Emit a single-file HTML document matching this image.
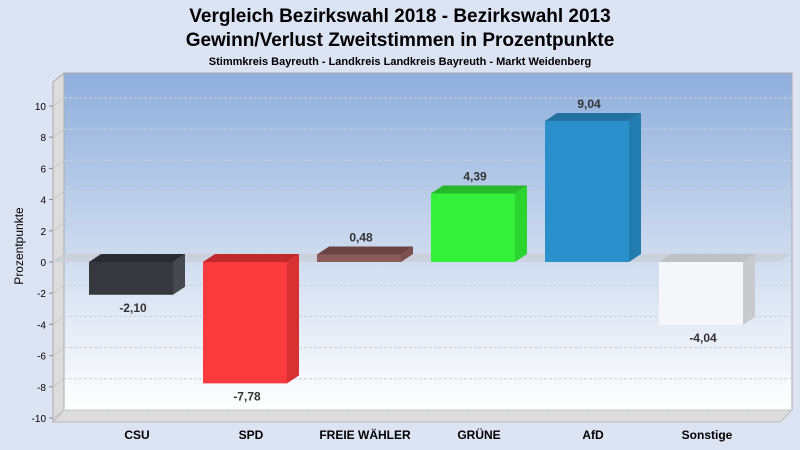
<!DOCTYPE html>
<html><head><meta charset="utf-8"><style>
body{margin:0;background:#dce3f3;font-family:"Liberation Sans",Arial,sans-serif}
svg{display:block}
</style></head><body>
<svg width="800" height="450" viewBox="0 0 800 450">
<defs>
<linearGradient id="wall" x1="0" y1="0" x2="0" y2="1">
<stop offset="0" stop-color="#8eaedc"/><stop offset="0.55" stop-color="#cfdcef"/><stop offset="1" stop-color="#ffffff"/>
</linearGradient>
</defs>
<rect width="800" height="450" fill="#dce3f3"/>
<text x="400" y="22" text-anchor="middle" font-size="19" font-weight="bold">Vergleich Bezirkswahl 2018 - Bezirkswahl 2013</text>
<text x="400" y="46" text-anchor="middle" font-size="19" font-weight="bold">Gewinn/Verlust Zweitstimmen in Prozentpunkte</text>
<text x="400" y="65" text-anchor="middle" font-size="11" font-weight="bold">Stimmkreis Bayreuth - Landkreis Landkreis Bayreuth - Markt Weidenberg</text>
<polygon points="53,82 64,73 64,410 53,422" fill="#dcdcdc" stroke="#aaa"/>
<rect x="64" y="73" width="728" height="337" fill="url(#wall)" stroke="#aaa"/>
<polygon points="53,422 64,410 792,410 780,422" fill="#dcdcdc" stroke="#bbb"/>
<text transform="translate(23,246) rotate(-90)" text-anchor="middle" font-size="12">Prozentpunkte</text>
<g id="grid"></g><g id="bars"></g>
</svg>
<script>
const categories=["CSU","SPD","FREIE WÄHLER","GRÜNE","AfD","Sonstige"];
const values=[-2.10,-7.78,0.48,4.39,9.04,-4.04];
const labels=["-2,10","-7,78","0,48","4,39","9,04","-4,04"];
const ticks=[-10,-8,-6,-4,-2,0,2,4,6,8,10];
const colors=[["#35383c","#2a2c2f","#45484c"],["#fb3a3e","#c02a2d","#d83134"],["#8d5a5a","#6c4343","#7d5050"],["#35f03a","#28b82c","#2cd430"],["#2a90cc","#23719f","#237cb0"],["#f4f6fa","#bfc0c3","#c9cacd"]];
const NS="http://www.w3.org/2000/svg";
const y=v=>262-v*15.6, cx=i=>131+114*i, DX=12, DY=-8, W=84;
function mk(t,a,p){const e=document.createElementNS(NS,t);for(const k in a)e.setAttribute(k,a[k]);p.appendChild(e);return e;}
const g=document.getElementById('grid'), b=document.getElementById('bars');
ticks.forEach(t=>{
 const l=mk('line',{x1:64,x2:792,y1:y(t)+DY,y2:y(t)+DY,stroke:'#c8cfdc','stroke-dasharray':'3,2'},g);
 
 
 const s=mk('line',{x1:53,x2:64,y1:y(t),y2:y(t)+DY,stroke:'#c8c8c8'},g);
 
 
 const k=mk('line',{x1:49,x2:53,y1:y(t),y2:y(t),stroke:'#888'},g);
 
 
 const tx=mk('text',{x:46,y:y(t)+4,'text-anchor':'end','font-size':10},g);
 tx.textContent=t;
 
 
});
const zp=mk('polygon',{points:`53,${y(0)} 64,${y(0)+DY} 792,${y(0)+DY} 780,${y(0)}`,fill:'#c9ced8',opacity:0.8},g);


values.forEach((v,i)=>{
 const x0=cx(i)-W/2,x1=cx(i)+W/2,top=Math.min(y(v),y(0)),bot=Math.max(y(v),y(0)),c=colors[i];
 const grp=mk('g',{},b);
 
 
 mk('polygon',{points:`${x1},${top} ${x1+DX},${top+DY} ${x1+DX},${bot+DY} ${x1},${bot}`,fill:c[2]},grp);
 mk('polygon',{points:`${x0},${top} ${x0+DX},${top+DY} ${x1+DX},${top+DY} ${x1},${top}`,fill:c[1]},grp);
 mk('rect',{x:x0,y:top,width:W,height:bot-top,fill:c[0]},grp);
 const lt=mk('text',{x:cx(i)+2,y:v>=0?top+DY-5:bot+17,'text-anchor':'middle','font-size':12,'font-weight':'bold',fill:'#333'},b);
 lt.textContent=labels[i];
 
 
 const ct=mk('text',{x:cx(i)+6,y:439,'text-anchor':'middle','font-size':12,'font-weight':'bold'},b);
 ct.textContent=categories[i];
 
 
});
</script>
</body></html>
